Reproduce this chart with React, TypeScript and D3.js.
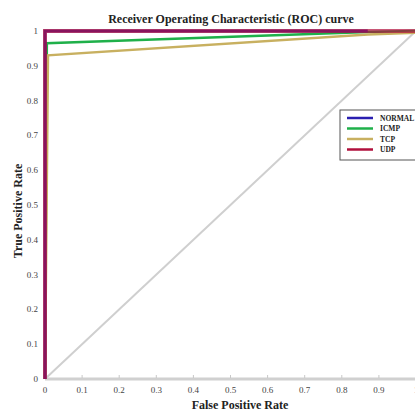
import React, { useEffect, useRef } from "react";
import * as d3 from "d3";

// roc curves, [fpr, tpr]
const seriesNames = ["NORMAL", "ICMP", "TCP", "UDP"];
const seriesColors = ["#2a1fb0", "#1fb04a", "#c8b060", "#b0103c"];
const normalFpr = [0, 0, 0.87];
const normalTpr = [0, 1, 1];
const icmpFpr = [0, 0.005, 0.87, 1];
const icmpTpr = [0, 0.965, 0.997, 1];
const tcpFpr = [0, 0.008, 0.87, 1];
const tcpTpr = [0, 0.93, 0.99, 0.995];
const udpFpr = [0, 0, 1];
const udpTpr = [0, 1, 1];
const ticks = [0, 0.1, 0.2, 0.3, 0.4, 0.5, 0.6, 0.7, 0.8, 0.9, 1];

export default function App() {
  const ref = useRef<SVGSVGElement>(null);

  useEffect(() => {
    const svg = d3.select(ref.current);
    svg.selectAll("*").remove();

    const x = d3.scaleLinear().domain([0, 1]).range([45, 416]);
    const y = d3.scaleLinear().domain([0, 1]).range([379, 31]);
    const font = "'Liberation Serif', 'DejaVu Serif', serif";

    svg.append("rect").attr("width", 415).attr("height", 409).attr("fill", "#fff");

    // x axis line
    svg.append("line")
      .attr("x1", x(0)).attr("x2", 415)
      .attr("y1", y(0)).attr("y2", y(0))
      .attr("stroke", "#d0d0d0").attr("stroke-width", 3);
    svg.selectAll(".xt").data(ticks).enter().append("line")
      .attr("x1", (d) => x(d)).attr("x2", (d) => x(d))
      .attr("y1", y(0) - 1).attr("y2", y(0) - 4)
      .attr("stroke", "#c8c8c8").attr("stroke-width", 1);

    svg.selectAll(".xl").data(ticks).enter().append("text")
      .attr("x", (d) => x(d)).attr("y", 393)
      .attr("text-anchor", "middle")
      .attr("font-family", font).attr("font-size", 9).attr("fill", "#444")
      .text((d) => String(d));
    svg.selectAll(".yl").data(ticks).enter().append("text")
      .attr("x", 38).attr("y", (d) => y(d) + 3)
      .attr("text-anchor", "end")
      .attr("font-family", font).attr("font-size", 9).attr("fill", "#444")
      .text((d) => String(d));

    // chance diagonal
    svg.append("line")
      .attr("x1", x(0)).attr("y1", y(0))
      .attr("x2", x(1)).attr("y2", y(1))
      .attr("stroke", "#cfcfcf").attr("stroke-width", 2);

    const line = d3.line<[number, number]>()
      .x((d) => x(d[0])).y((d) => y(d[1]));
    const zip = (a: number[], b: number[]) => a.map((v, i) => [v, b[i]] as [number, number]);

    const curves = [
      { pts: zip(icmpFpr, icmpTpr), c: seriesColors[1], w: 2.5, o: 1 },
      { pts: zip(tcpFpr, tcpTpr), c: seriesColors[2], w: 2.5, o: 1 },
      { pts: zip(normalFpr, normalTpr), c: seriesColors[0], w: 3, o: 1 },
      { pts: zip(udpFpr, udpTpr), c: seriesColors[3], w: 4, o: 0.7 },
    ];
    curves.forEach((cv) => {
      svg.append("path")
        .attr("d", line(cv.pts))
        .attr("fill", "none")
        .attr("stroke", cv.c)
        .attr("stroke-width", cv.w)
        .attr("stroke-opacity", cv.o);
    });

    // title and labels
    svg.append("text")
      .attr("x", 231).attr("y", 23)
      .attr("text-anchor", "middle")
      .attr("font-family", font).attr("font-weight", "bold").attr("font-size", 12)
      .attr("fill", "#222")
      .text("Receiver Operating Characteristic (ROC) curve");
    svg.append("text")
      .attr("x", 240).attr("y", 409)
      .attr("text-anchor", "middle")
      .attr("font-family", font).attr("font-weight", "bold").attr("font-size", 12)
      .attr("fill", "#222")
      .text("False Positive Rate");
    svg.append("text")
      .attr("transform", "translate(22,211) rotate(-90)")
      .attr("text-anchor", "middle")
      .attr("font-family", font).attr("font-weight", "bold").attr("font-size", 12)
      .attr("fill", "#222")
      .text("True Positive Rate");

    // legend
    const lg = svg.append("g").attr("transform", "translate(340,110)");
    lg.append("rect")
      .attr("x", 0).attr("y", 0).attr("width", 90).attr("height", 50)
      .attr("fill", "#fff").attr("stroke", "#555").attr("stroke-width", 1);
    seriesNames.forEach((name, i) => {
      const yy = 8 + i * 10.5;
      lg.append("line")
        .attr("x1", 7).attr("x2", 33).attr("y1", yy).attr("y2", yy)
        .attr("stroke", seriesColors[i]).attr("stroke-width", 2.5);
      lg.append("text")
        .attr("x", 40).attr("y", yy + 2.5)
        .attr("font-family", font).attr("font-weight", "bold").attr("font-size", 7.5)
        .attr("fill", "#222")
        .text(name);
    });
  }, []);

  return (
    <svg ref={ref} width={415} height={409}
      style={{ position: "absolute", left: 0, top: 0, display: "block" }} />
  );
}
